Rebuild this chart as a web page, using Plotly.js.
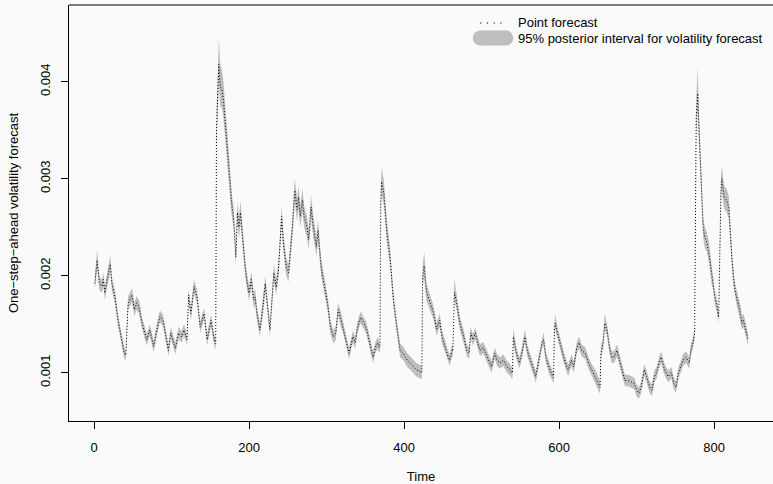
<!DOCTYPE html>
<html>
<head>
<meta charset="utf-8">
<script src="https://cdn.plot.ly/plotly-3.0.1.min.js"></script>
<style>html,body{margin:0;padding:0;background:#fafafa;}#chart{width:773px;height:484px;}</style>
</head>
<body>
<div id="chart"></div>
<script>
// Time index of each reading
const time = [1,4,7,10,12,14,17,21,23,27,31,36,39,41,44,49,52,55,58,62,68,72,77,81,85,89,92,96,99,102,105,109,113,116,120,122,125,129,133,137,142,146,151,155,157,
158,160,161,163,165,167,169,170,173,176,178,180,182,183,185,187,189,191,195,197,200,203,206,208,210,214,218,221,223,227,232,235,238,242,244,248,251,254,256,259,262,264,266,269,271,275,277,280,283,287,289,293,296,299,302,305,309,312,315,318,322,326,329,334,337,340,344,348,351,354,357,360,363,366,368,369,
370,371,374,378,382,386,390,393,395,399,404,408,412,416,421,423,
424,426,429,434,438,442,446,449,453,457,459,462,463,
464,465,468,472,477,481,484,486,489,492,494,498,502,505,509,513,517,520,524,528,533,537,539,540,
541,545,549,552,556,559,563,567,570,574,578,580,583,588,592,593,
594,595,598,601,606,610,612,616,619,623,626,629,634,638,642,647,651,653,
654,657,659,662,665,668,671,675,678,681,685,689,694,697,700,703,706,710,713,717,720,723,726,729,732,735,738,741,745,748,751,754,757,760,764,766,768,770,773,774,775,
777,779,780,782,784,786,788,791,793,795,797,799,801,804,806,
809,810,813,816,819,821,823,825,827,829,831,834,836,838,840,842,844];

// One-step-ahead volatility point forecast
const pointForecast = [1.92e-3,2.16e-3,1.92e-3,1.89e-3,1.96e-3,1.82e-3,1.96e-3,2.12e-3,1.92e-3,1.78e-3,1.54e-3,1.34e-3,1.20e-3,1.18e-3,1.72e-3,1.80e-3,1.65e-3,1.72e-3,1.68e-3,1.51e-3,1.34e-3,1.44e-3,1.27e-3,1.44e-3,1.58e-3,1.54e-3,1.41e-3,1.23e-3,1.41e-3,1.34e-3,1.25e-3,1.41e-3,1.37e-3,1.44e-3,1.34e-3,1.80e-3,1.61e-3,1.89e-3,1.78e-3,1.47e-3,1.61e-3,1.34e-3,1.54e-3,1.34e-3,1.30e-3,
3.50e-3,4.05e-3,4.18e-3,3.95e-3,3.92e-3,3.81e-3,3.61e-3,3.47e-3,3.12e-3,2.88e-3,2.71e-3,2.61e-3,2.37e-3,2.19e-3,2.65e-3,2.50e-3,2.65e-3,2.44e-3,2.09e-3,1.96e-3,1.82e-3,1.96e-3,1.75e-3,1.78e-3,1.62e-3,1.44e-3,1.68e-3,1.92e-3,1.75e-3,1.44e-3,2.03e-3,1.88e-3,2.06e-3,2.61e-3,2.37e-3,2.09e-3,2.03e-3,2.30e-3,2.50e-3,2.88e-3,2.68e-3,2.81e-3,2.61e-3,2.78e-3,2.61e-3,2.50e-3,2.37e-3,2.71e-3,2.50e-3,2.30e-3,2.47e-3,2.09e-3,1.96e-3,1.82e-3,1.68e-3,1.47e-3,1.37e-3,1.41e-3,1.65e-3,1.57e-3,1.44e-3,1.31e-3,1.20e-3,1.37e-3,1.31e-3,1.47e-3,1.57e-3,1.51e-3,1.47e-3,1.37e-3,1.26e-3,1.16e-3,1.26e-3,1.31e-3,1.26e-3,1.28e-3,
2.75e-3,2.97e-3,2.85e-3,2.44e-3,2.19e-3,1.78e-3,1.51e-3,1.34e-3,1.23e-3,1.20e-3,1.13e-3,1.10e-3,1.06e-3,1.03e-3,1.01e-3,1.00e-3,
2.00e-3,2.10e-3,1.83e-3,1.72e-3,1.62e-3,1.45e-3,1.54e-3,1.37e-3,1.26e-3,1.16e-3,1.13e-3,1.23e-3,1.22e-3,
1.75e-3,1.83e-3,1.72e-3,1.51e-3,1.37e-3,1.23e-3,1.20e-3,1.41e-3,1.34e-3,1.41e-3,1.34e-3,1.23e-3,1.26e-3,1.20e-3,1.13e-3,1.06e-3,1.20e-3,1.13e-3,1.10e-3,1.13e-3,1.06e-3,1.03e-3,1.00e-3,1.00e-3,
1.37e-3,1.20e-3,1.10e-3,1.20e-3,1.37e-3,1.23e-3,1.13e-3,1.03e-3,0.96e-3,1.13e-3,1.31e-3,1.34e-3,1.16e-3,1.03e-3,0.96e-3,0.95e-3,
1.45e-3,1.51e-3,1.41e-3,1.31e-3,1.16e-3,1.06e-3,1.03e-3,1.13e-3,1.06e-3,1.26e-3,1.31e-3,1.23e-3,1.20e-3,1.10e-3,1.03e-3,0.96e-3,0.89e-3,0.85e-3,
1.20e-3,1.31e-3,1.51e-3,1.44e-3,1.26e-3,1.16e-3,1.16e-3,1.23e-3,1.13e-3,1.03e-3,0.92e-3,0.92e-3,0.90e-3,0.89e-3,0.82e-3,0.79e-3,0.85e-3,1.03e-3,0.96e-3,0.85e-3,0.82e-3,0.96e-3,1.00e-3,1.10e-3,1.16e-3,1.06e-3,1.00e-3,0.96e-3,1.00e-3,0.89e-3,0.85e-3,1.00e-3,1.06e-3,1.13e-3,1.16e-3,1.13e-3,1.10e-3,1.23e-3,1.31e-3,1.37e-3,1.40e-3,
3.64e-3,3.88e-3,3.64e-3,3.30e-3,2.95e-3,2.50e-3,2.40e-3,2.34e-3,2.26e-3,2.13e-3,1.99e-3,1.92e-3,1.78e-3,1.68e-3,1.57e-3,
2.90e-3,3.00e-3,2.81e-3,2.78e-3,2.71e-3,2.40e-3,2.19e-3,1.99e-3,1.85e-3,1.78e-3,1.72e-3,1.62e-3,1.51e-3,1.54e-3,1.47e-3,1.41e-3,1.34e-3];

// Lower bound of the 95% posterior interval
const lower95 = [1.85e-3,2.07e-3,1.85e-3,1.82e-3,1.89e-3,1.75e-3,1.89e-3,2.03e-3,1.85e-3,1.71e-3,1.48e-3,1.28e-3,1.14e-3,1.13e-3,1.65e-3,1.73e-3,1.58e-3,1.65e-3,1.61e-3,1.45e-3,1.28e-3,1.38e-3,1.21e-3,1.38e-3,1.52e-3,1.48e-3,1.35e-3,1.17e-3,1.35e-3,1.28e-3,1.19e-3,1.35e-3,1.31e-3,1.38e-3,1.28e-3,1.73e-3,1.54e-3,1.82e-3,1.71e-3,1.41e-3,1.55e-3,1.28e-3,1.48e-3,1.28e-3,1.24e-3,
3.32e-3,3.85e-3,3.95e-3,3.75e-3,3.73e-3,3.62e-3,3.43e-3,3.31e-3,2.97e-3,2.76e-3,2.59e-3,2.50e-3,2.27e-3,2.09e-3,2.53e-3,2.39e-3,2.53e-3,2.34e-3,2.00e-3,1.88e-3,1.74e-3,1.88e-3,1.67e-3,1.70e-3,1.55e-3,1.37e-3,1.60e-3,1.84e-3,1.67e-3,1.37e-3,1.94e-3,1.80e-3,1.97e-3,2.50e-3,2.27e-3,2.00e-3,1.94e-3,2.20e-3,2.39e-3,2.76e-3,2.56e-3,2.69e-3,2.50e-3,2.66e-3,2.50e-3,2.39e-3,2.27e-3,2.59e-3,2.39e-3,2.20e-3,2.36e-3,2.00e-3,1.88e-3,1.74e-3,1.60e-3,1.40e-3,1.30e-3,1.34e-3,1.58e-3,1.50e-3,1.38e-3,1.25e-3,1.14e-3,1.31e-3,1.25e-3,1.41e-3,1.51e-3,1.45e-3,1.41e-3,1.31e-3,1.20e-3,1.10e-3,1.20e-3,1.25e-3,1.20e-3,1.22e-3,
2.62e-3,2.84e-3,2.72e-3,2.33e-3,2.09e-3,1.70e-3,1.44e-3,1.27e-3,1.16e-3,1.13e-3,1.06e-3,1.03e-3,0.99e-3,0.96e-3,0.94e-3,0.93e-3,
1.89e-3,1.98e-3,1.74e-3,1.64e-3,1.55e-3,1.38e-3,1.47e-3,1.30e-3,1.20e-3,1.10e-3,1.07e-3,1.17e-3,1.16e-3,
1.66e-3,1.74e-3,1.64e-3,1.44e-3,1.30e-3,1.17e-3,1.14e-3,1.35e-3,1.28e-3,1.35e-3,1.28e-3,1.17e-3,1.20e-3,1.14e-3,1.07e-3,1.00e-3,1.14e-3,1.07e-3,1.04e-3,1.07e-3,1.00e-3,0.97e-3,0.94e-3,0.94e-3,
1.30e-3,1.14e-3,1.04e-3,1.14e-3,1.31e-3,1.17e-3,1.07e-3,0.97e-3,0.90e-3,1.07e-3,1.25e-3,1.28e-3,1.10e-3,0.97e-3,0.90e-3,0.89e-3,
1.38e-3,1.44e-3,1.35e-3,1.25e-3,1.10e-3,1.00e-3,0.97e-3,1.07e-3,1.00e-3,1.20e-3,1.25e-3,1.17e-3,1.14e-3,1.04e-3,0.97e-3,0.89e-3,0.82e-3,0.78e-3,
1.13e-3,1.25e-3,1.44e-3,1.38e-3,1.20e-3,1.10e-3,1.10e-3,1.17e-3,1.07e-3,0.97e-3,0.86e-3,0.86e-3,0.84e-3,0.83e-3,0.76e-3,0.73e-3,0.79e-3,0.97e-3,0.90e-3,0.79e-3,0.76e-3,0.90e-3,0.94e-3,1.04e-3,1.10e-3,1.00e-3,0.94e-3,0.90e-3,0.94e-3,0.83e-3,0.79e-3,0.94e-3,1.00e-3,1.07e-3,1.10e-3,1.07e-3,1.04e-3,1.17e-3,1.25e-3,1.31e-3,1.34e-3,
3.46e-3,3.68e-3,3.46e-3,3.14e-3,2.81e-3,2.39e-3,2.29e-3,2.24e-3,2.16e-3,2.04e-3,1.91e-3,1.85e-3,1.71e-3,1.61e-3,1.50e-3,
2.78e-3,2.87e-3,2.69e-3,2.66e-3,2.59e-3,2.29e-3,2.09e-3,1.90e-3,1.77e-3,1.70e-3,1.64e-3,1.54e-3,1.44e-3,1.47e-3,1.40e-3,1.34e-3,1.28e-3];

// Upper bound of the 95% posterior interval
const upper95 = [1.99e-3,2.27e-3,1.99e-3,1.96e-3,2.03e-3,1.89e-3,2.03e-3,2.21e-3,1.99e-3,1.85e-3,1.60e-3,1.40e-3,1.26e-3,1.23e-3,1.79e-3,1.87e-3,1.72e-3,1.79e-3,1.75e-3,1.57e-3,1.40e-3,1.50e-3,1.33e-3,1.50e-3,1.64e-3,1.60e-3,1.47e-3,1.29e-3,1.47e-3,1.40e-3,1.31e-3,1.47e-3,1.43e-3,1.50e-3,1.40e-3,1.87e-3,1.68e-3,1.96e-3,1.85e-3,1.53e-3,1.67e-3,1.40e-3,1.60e-3,1.40e-3,1.36e-3,
3.68e-3,4.28e-3,4.45e-3,4.17e-3,4.12e-3,4.00e-3,3.79e-3,3.63e-3,3.27e-3,3.00e-3,2.83e-3,2.72e-3,2.47e-3,2.29e-3,2.77e-3,2.61e-3,2.77e-3,2.54e-3,2.18e-3,2.04e-3,1.90e-3,2.04e-3,1.83e-3,1.86e-3,1.69e-3,1.51e-3,1.76e-3,2.00e-3,1.83e-3,1.51e-3,2.12e-3,1.96e-3,2.15e-3,2.72e-3,2.47e-3,2.18e-3,2.12e-3,2.40e-3,2.61e-3,3.00e-3,2.80e-3,2.93e-3,2.72e-3,2.90e-3,2.72e-3,2.61e-3,2.47e-3,2.83e-3,2.61e-3,2.40e-3,2.58e-3,2.18e-3,2.04e-3,1.90e-3,1.76e-3,1.54e-3,1.44e-3,1.48e-3,1.72e-3,1.64e-3,1.50e-3,1.37e-3,1.26e-3,1.43e-3,1.37e-3,1.53e-3,1.63e-3,1.57e-3,1.53e-3,1.43e-3,1.32e-3,1.22e-3,1.32e-3,1.37e-3,1.32e-3,1.34e-3,
2.88e-3,3.12e-3,2.98e-3,2.55e-3,2.29e-3,1.86e-3,1.58e-3,1.41e-3,1.30e-3,1.27e-3,1.20e-3,1.17e-3,1.13e-3,1.10e-3,1.08e-3,1.07e-3,
2.11e-3,2.25e-3,1.92e-3,1.80e-3,1.69e-3,1.52e-3,1.61e-3,1.44e-3,1.32e-3,1.22e-3,1.19e-3,1.29e-3,1.28e-3,
1.84e-3,1.97e-3,1.80e-3,1.58e-3,1.44e-3,1.29e-3,1.26e-3,1.47e-3,1.40e-3,1.47e-3,1.40e-3,1.29e-3,1.32e-3,1.26e-3,1.19e-3,1.12e-3,1.26e-3,1.19e-3,1.16e-3,1.19e-3,1.12e-3,1.09e-3,1.06e-3,1.06e-3,
1.46e-3,1.26e-3,1.16e-3,1.26e-3,1.45e-3,1.29e-3,1.19e-3,1.09e-3,1.02e-3,1.19e-3,1.37e-3,1.42e-3,1.22e-3,1.09e-3,1.02e-3,1.01e-3,
1.52e-3,1.60e-3,1.47e-3,1.37e-3,1.22e-3,1.12e-3,1.09e-3,1.19e-3,1.12e-3,1.32e-3,1.37e-3,1.29e-3,1.26e-3,1.16e-3,1.09e-3,1.03e-3,0.96e-3,0.92e-3,
1.27e-3,1.37e-3,1.61e-3,1.50e-3,1.32e-3,1.22e-3,1.22e-3,1.29e-3,1.19e-3,1.09e-3,0.98e-3,0.98e-3,0.96e-3,0.95e-3,0.88e-3,0.85e-3,0.91e-3,1.09e-3,1.02e-3,0.91e-3,0.88e-3,1.02e-3,1.06e-3,1.16e-3,1.22e-3,1.12e-3,1.06e-3,1.02e-3,1.06e-3,0.95e-3,0.91e-3,1.06e-3,1.12e-3,1.19e-3,1.22e-3,1.19e-3,1.16e-3,1.29e-3,1.37e-3,1.43e-3,1.46e-3,
3.82e-3,4.15e-3,3.82e-3,3.46e-3,3.09e-3,2.61e-3,2.51e-3,2.44e-3,2.36e-3,2.22e-3,2.07e-3,1.99e-3,1.85e-3,1.75e-3,1.64e-3,
3.02e-3,3.13e-3,2.93e-3,2.90e-3,2.83e-3,2.51e-3,2.29e-3,2.08e-3,1.93e-3,1.86e-3,1.80e-3,1.70e-3,1.58e-3,1.61e-3,1.54e-3,1.48e-3,1.40e-3];

const xTickVals = [0, 200, 400, 600, 800];
const xTickText = ['0', '200', '400', '600', '800'];
const yTickVals = [0.001, 0.002, 0.003, 0.004];
const yTickText = ['0.001', '0.002', '0.003', '0.004'];
const legendLabels = ['Point forecast', '95% posterior interval for volatility forecast'];

const BAND = '#bebebe';
const FONT = 'Liberation Sans, Arial, Helvetica, sans-serif';

// plot area in pixels (for placing legend items)
const L = 69, R = 773, T = 5, B = 421;
const px = x => (x - L) / (R - L);
const py = y => (B - y) / (B - T);

const traces = [
  {x: time, y: lower95, type: 'scatter', mode: 'lines', line: {width: 0, color: BAND}, hoverinfo: 'skip', showlegend: false},
  {x: time, y: upper95, type: 'scatter', mode: 'lines', fill: 'tonexty', fillcolor: BAND, line: {width: 0, color: BAND}, name: legendLabels[1], showlegend: false},
  {x: time, y: pointForecast, type: 'scatter', mode: 'lines', line: {color: '#000', width: 1, dash: '1px,2px'}, name: legendLabels[0], showlegend: false}
];

const shapes = [
  // top border of the plot box
  {type: 'line', xref: 'paper', yref: 'paper', x0: 0, x1: 1, y0: 1, y1: 1, line: {color: '#000', width: 1}},
  // legend: dotted sample
  {type: 'line', xref: 'paper', yref: 'paper', x0: px(480.2), x1: px(502), y0: py(23), y1: py(23), line: {color: '#000', width: 1.2, dash: '1.2px,5.5px'}},
  // legend: grey pill swatch
  {type: 'rect', xref: 'paper', yref: 'paper', xsizemode: 'pixel', ysizemode: 'pixel', xanchor: px(493), yanchor: py(38), x0: -12.8, x1: 12.8, y0: -7.5, y1: 7.5, fillcolor: BAND, line: {width: 0}},
  {type: 'circle', xref: 'paper', yref: 'paper', xsizemode: 'pixel', ysizemode: 'pixel', xanchor: px(493), yanchor: py(38), x0: -20.3, x1: -5.3, y0: -7.5, y1: 7.5, fillcolor: BAND, line: {width: 0}},
  {type: 'circle', xref: 'paper', yref: 'paper', xsizemode: 'pixel', ysizemode: 'pixel', xanchor: px(493), yanchor: py(38), x0: 5.3, x1: 20.3, y0: -7.5, y1: 7.5, fillcolor: BAND, line: {width: 0}}
];

const annotations = [
  {xref: 'paper', yref: 'paper', x: px(516), y: py(23), xanchor: 'left', yanchor: 'middle', text: legendLabels[0], showarrow: false, font: {family: FONT, size: 13, color: '#000'}},
  {xref: 'paper', yref: 'paper', x: px(516), y: py(38), xanchor: 'left', yanchor: 'middle', text: legendLabels[1], showarrow: false, font: {family: FONT, size: 13, color: '#000'}}
];

const layout = {
  width: 773, height: 484,
  paper_bgcolor: '#fafafa', plot_bgcolor: '#fafafa',
  margin: {l: L, r: 773 - R, t: T, b: 484 - B, pad: 0},
  showlegend: false,
  font: {family: FONT, size: 13, color: '#000'},
  xaxis: {
    range: [-32.3, 876.1], tickvals: xTickVals, ticktext: xTickText,
    ticks: 'outside', ticklen: 7, tickwidth: 1, tickcolor: '#000',
    showline: true, linecolor: '#000', linewidth: 1, showgrid: false, zeroline: false,
    tickfont: {family: FONT, size: 13, color: '#000'},
    ticklabelstandoff: 7,
    title: {text: 'Time', font: {family: FONT, size: 13, color: '#000'}, standoff: 19},
    automargin: false
  },
  yaxis: {
    range: [0.000502, 0.004791], tickvals: yTickVals, ticktext: yTickText, tickangle: -90,
    ticks: 'outside', ticklen: 7, tickwidth: 1, tickcolor: '#000',
    showline: true, linecolor: '#000', linewidth: 1, showgrid: false, zeroline: false,
    tickfont: {family: FONT, size: 13, color: '#000'},
    ticklabelstandoff: 6,
    title: {text: 'One\u2212step\u2212ahead volatility forecast', font: {family: FONT, size: 13, color: '#000'}, standoff: 16},
    automargin: false
  },
  shapes: shapes,
  annotations: annotations
};

Plotly.newPlot('chart', traces, layout, {displayModeBar: false, staticPlot: true});
</script>
</body>
</html>
